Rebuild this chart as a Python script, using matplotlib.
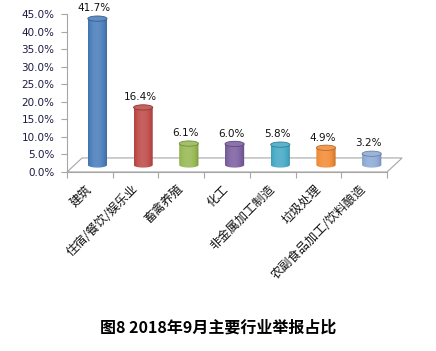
import matplotlib
matplotlib.use("Agg")
import matplotlib.pyplot as plt
import matplotlib.colors as mcolors
import matplotlib.ticker as mtick
from matplotlib.patches import Ellipse, Polygon, PathPatch
from matplotlib.path import Path
import numpy as np

plt.rcParams['font.family'] = ['DejaVu Sans', 'Noto Sans CJK SC']

categories = ['建筑', '住宿/餐饮/娱乐业', '畜禽养殖', '化工', '非金属加工制造', '垃圾处理', '农副食品加工/饮料酿造']
values = [41.7, 16.4, 6.1, 6.0, 5.8, 4.9, 3.2]
colors = ['#4a7ebb', '#be4b48', '#98b954', '#7d60a0', '#46aac5', '#f28c38', '#8eaad6']
title = '图8 2018年9月主要行业举报占比'

# fake 3d depth, in data units
dx, dy = 0.33, 4.0
bar_w = 0.42
ell_h = 1.5

fig = plt.figure(figsize=(4.36, 3.51), dpi=100)
ax = fig.add_axes([0.1537, 0.51, 0.734, 0.45])

# floor
floor = Polygon([(-0.5, 0), (6.5, 0), (6.5 + dx, dy), (-0.5 + dx, dy)], closed=True,
                facecolor='white', edgecolor='#a6a6a6', lw=0.8, clip_on=False, zorder=1)
ax.add_patch(floor)


def shade(c, f):
    rgb = np.array(mcolors.to_rgb(c))
    if f >= 1:
        return rgb + (1 - rgb) * (f - 1)
    return rgb * f


grad = np.linspace(0, 1, 64)
profile = 0.72 + 0.45 * np.sin(np.pi * (grad * 0.85 + 0.08)) ** 0.6 - 0.1 * grad

for i, (v, c) in enumerate(zip(values, colors)):
    cx = i + dx / 2
    y0, y1 = dy / 2, v + dy / 2
    x0, x1 = cx - bar_w / 2, cx + bar_w / 2
    img = np.array([[np.clip(shade(c, f), 0, 1) for f in profile]])
    im = ax.imshow(img, extent=[x0, x1, y0 - ell_h / 2, y1], aspect='auto', zorder=3,
                   interpolation='bilinear', clip_on=True)
    # body clip: rectangle with rounded bottom
    t = np.linspace(np.pi, 2 * np.pi, 30)
    verts = [(x0, y1)] + [(cx + bar_w / 2 * np.cos(a), y0 + ell_h / 2 * np.sin(a)) for a in t] + [(x1, y1), (x0, y1)]
    clip = PathPatch(Path(verts), transform=ax.transData, facecolor='none', edgecolor='none')
    ax.add_patch(clip)
    im.set_clip_path(clip)
    top = Ellipse((cx, y1), bar_w, ell_h, facecolor=np.clip(shade(c, 1.12), 0, 1),
                  edgecolor=shade(c, 0.75), lw=0.6, zorder=4)
    ax.add_patch(top)
    ax.text(i + 0.1, v + 3.5, '%.1f%%' % v, ha='center', va='bottom', fontsize=7.5, color='#111111')

ax.set_xlim(-0.5, 6.5)
ax.set_ylim(0, 45)
ax.set_yticks(np.arange(0, 46, 5))
ax.yaxis.set_major_formatter(mtick.FormatStrFormatter('%.1f%%'))
ax.set_xticks(np.arange(-0.5, 7, 1))
ax.set_xticklabels([])
for sp in ['top', 'right']:
    ax.spines[sp].set_visible(False)
for sp in ['left', 'bottom']:
    ax.spines[sp].set_color('#a6a6a6')
ax.tick_params(axis='both', colors='#a6a6a6', length=4, width=0.8)
ax.tick_params(axis='y', labelcolor='#1a1a44', labelsize=7.5, pad=5)
ax.patch.set_visible(False)

for i, cat in enumerate(categories):
    ax.text(i - 0.1, -3.0, cat, rotation=45, ha='right', va='top', rotation_mode='anchor',
            fontsize=8.8, family=['Noto Sans CJK SC', 'DejaVu Sans'], color='#111111')

fig.text(0.5, 0.068, title, ha='center', va='center', fontsize=11.5, fontweight='bold',
         family=['Noto Sans CJK SC', 'DejaVu Sans'])

fig.savefig('out.png', dpi=100)
